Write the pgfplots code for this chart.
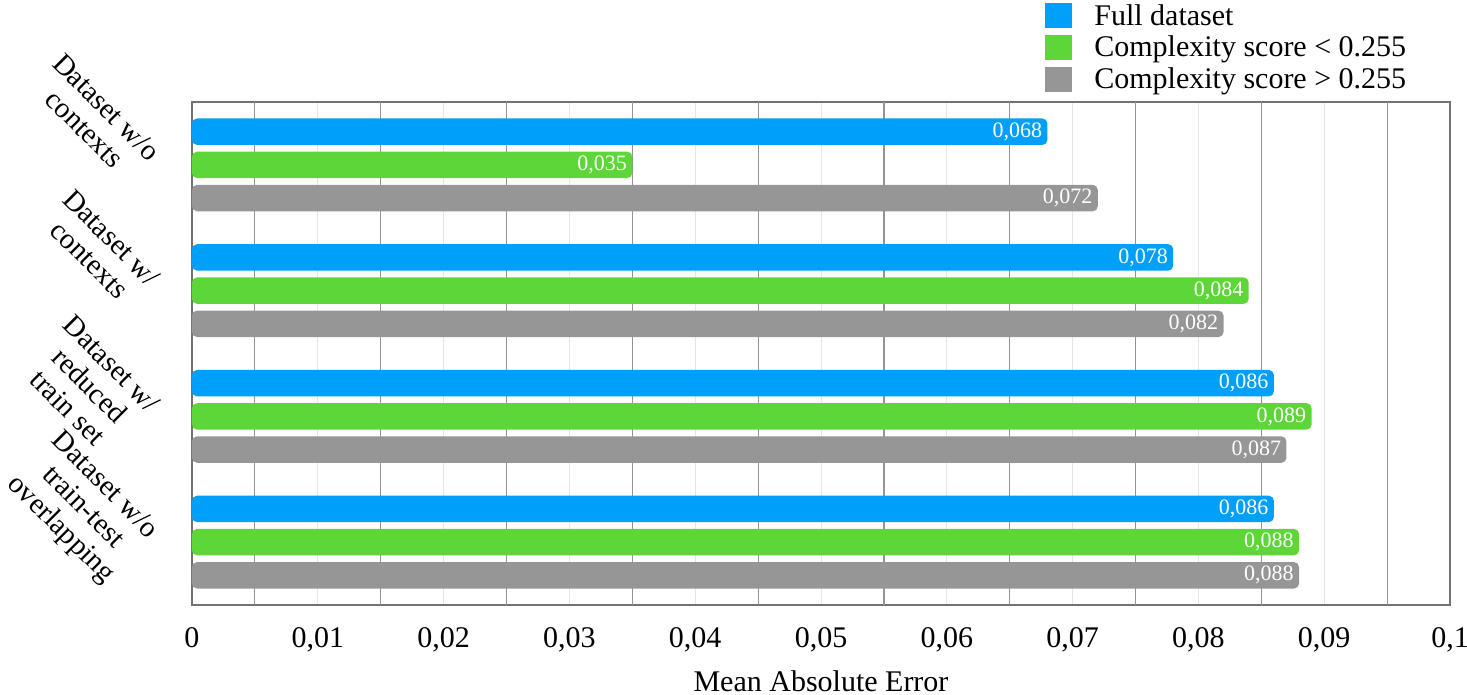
\documentclass[border=0pt]{standalone}
\usepackage{pgfplots}
\pgfplotsset{compat=1.18}
\usepackage{fontspec}
\setmainfont{Liberation Serif}

\definecolor{cblue}{RGB}{0,160,250}
\definecolor{cgreen}{RGB}{93,214,55}
\definecolor{cgray}{RGB}{150,150,150}

\begin{document}
\begin{tikzpicture}
\begin{axis}[
  scale only axis, width=629pt, height=251.5pt,
  xbar, bar width=0.21,
  xmin=0, xmax=0.1, ymin=-0.5, ymax=3.5, y dir=reverse,
  axis line style={draw=black!55, line width=0.6pt},
  xtick={0,0.01,0.02,0.03,0.04,0.05,0.06,0.07,0.08,0.09,0.1},
  xticklabels={0,{0,01},{0,02},{0,03},{0,04},{0,05},{0,06},{0,07},{0,08},{0,09},{0,1}},
  xmajorgrids, major grid style={draw=black!10, line width=0.5pt},
  extra x ticks={0.005,0.015,0.025,0.035,0.045,0.055,0.065,0.075,0.085,0.095},
  extra x tick labels={},
  extra x tick style={grid=major, major grid style={draw=black!42, line width=0.6pt}},
  major tick length=0pt,
  xticklabel style={font=\fontsize{15}{16}\selectfont, anchor=base, yshift=-21pt},
  ytick={0,1,2,3},
  yticklabels={{Dataset w/o\\contexts},{Dataset w/\\contexts},{Dataset w/\\reduced\\train set},{Dataset w/o\\train-test\\overlapping}},
  yticklabel style={font=\fontsize{14.5}{15.5}\selectfont, align=center, xshift=-10pt, yshift=8pt, rotate=-45, anchor=north east},
  xlabel={Mean Absolute Error},
  xlabel style={font=\fontsize{15}{16}\selectfont, at={(axis description cs:0.5,-0.171)}, anchor=base},
  nodes near coords={\pgfmathprintnumber[fixed,zerofill,precision=3,use comma]{\pgfplotspointmeta}},
  point meta=x,
  every node near coord/.append style={anchor=east, text=white, font=\fontsize{11}{11}\selectfont, xshift=-1pt, inner sep=1.5pt, /pgf/number format/assume math mode=true},
  legend style={at={(0.678,1.203)}, anchor=north west, draw=none, fill=none,
    font=\fontsize{15}{15}\selectfont, row sep=0pt, inner sep=0pt,
    /tikz/every odd column/.append style={column sep=9pt}},
  legend cell align=left,
  legend image code/.code={\fill[#1,draw=none,sharp corners] (0pt,-6pt) rectangle (13.5pt,6.5pt);},
]
\addplot[fill=cblue, draw=none, rounded corners=2.5pt, bar shift=-0.264]
  coordinates {(0.068,0) (0.078,1) (0.086,2) (0.086,3)};
\addplot[fill=cgreen, draw=none, rounded corners=2.5pt, bar shift=0]
  coordinates {(0.035,0) (0.084,1) (0.089,2) (0.088,3)};
\addplot[fill=cgray, draw=none, rounded corners=2.5pt, bar shift=0.264]
  coordinates {(0.072,0) (0.082,1) (0.087,2) (0.088,3)};
\legend{Full dataset, Complexity score < 0.255, Complexity score > 0.255}
\end{axis}
\pgfresetboundingbox
\path ([xshift=-96pt,yshift=-45pt]current axis.south west) rectangle ([xshift=8.5pt,yshift=51pt]current axis.north east);
\end{tikzpicture}
\end{document}
